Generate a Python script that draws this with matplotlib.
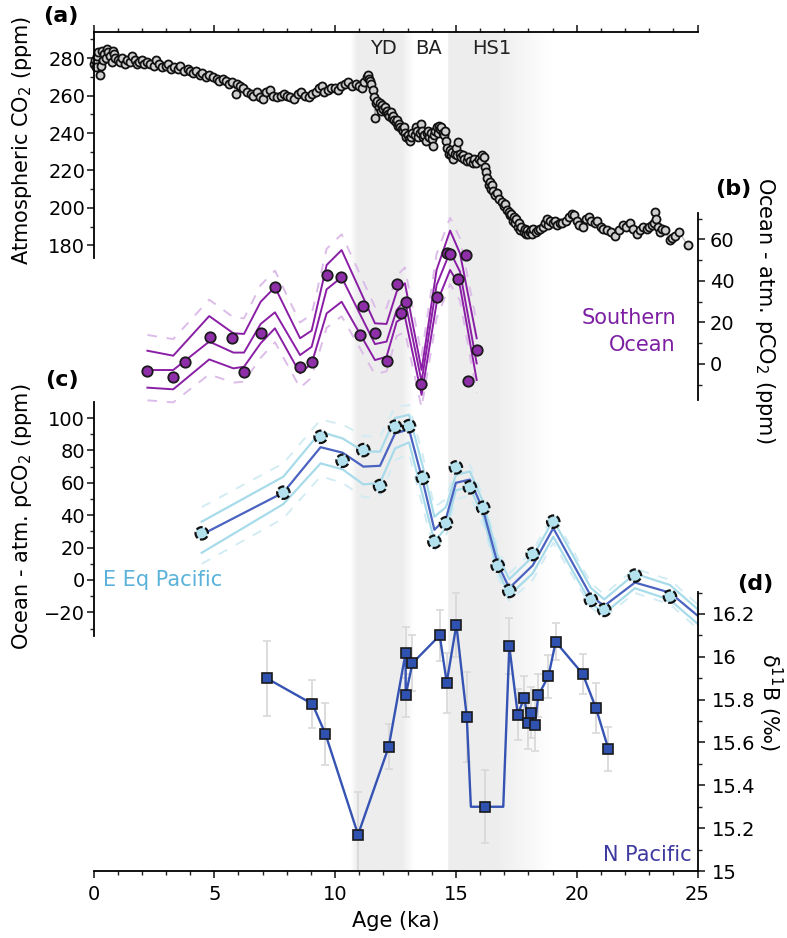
import numpy as np
import matplotlib
matplotlib.use('Agg')
import matplotlib.pyplot as plt
from matplotlib.ticker import MultipleLocator

plt.rcParams['font.family'] = ['DejaVu Sans']

# ---------------- data ----------------
# (a) atmospheric CO2 (ka, ppm)
co2_age = [0.0, 0.05, 0.1, 0.15, 0.2, 0.25, 0.3, 0.35, 0.4, 0.45, 0.5, 0.55, 0.6, 0.7, 0.75, 0.8, 0.85, 0.9,
           1.0, 1.1, 1.2, 1.3, 1.4, 1.5, 1.6, 1.7, 1.8, 1.9, 2.0, 2.1, 2.2, 2.35, 2.5, 2.6, 2.7, 2.85,
           3.0, 3.1, 3.2, 3.35, 3.5, 3.6, 3.75, 3.9, 4.0, 4.1, 4.25, 4.4, 4.5, 4.65, 4.8, 4.95, 5.1, 5.2,
           5.35, 5.5, 5.6, 5.75, 5.9, 5.95, 6.05, 6.2, 6.35, 6.5, 6.6, 6.75, 6.9, 7.0, 7.15, 7.3, 7.45,
           7.6, 7.75, 7.9, 8.0, 8.15, 8.3, 8.45, 8.6, 8.75, 8.9, 9.05, 9.2, 9.35, 9.45, 9.55, 9.7, 9.85,
           10.0, 10.1, 10.25, 10.4, 10.55, 10.7, 10.85, 11.0, 11.1, 11.2, 11.3, 11.35, 11.4, 11.45, 11.5,
           11.55, 11.6, 11.65, 11.7, 11.75, 11.8, 11.85, 11.9, 11.95, 12.0, 12.05, 12.1, 12.15, 12.2,
           12.25, 12.3, 12.35, 12.4, 12.45, 12.5, 12.55, 12.6, 12.65, 12.7, 12.75, 12.8, 12.85, 12.9,
           12.95, 13.0, 13.05, 13.1, 13.15, 13.2, 13.3, 13.35, 13.4, 13.45, 13.5, 13.55, 13.6, 13.65,
           13.7, 13.75, 13.8, 13.85, 13.9, 13.95, 14.0, 14.05, 14.1, 14.15, 14.2, 14.25, 14.3, 14.35,
           14.4, 14.45, 14.5, 14.55, 14.6, 14.65, 14.7, 14.75, 14.8, 14.85, 14.9, 14.95, 15.0, 15.05,
           15.1, 15.15, 15.2, 15.3, 15.35, 15.45, 15.5, 15.6, 15.7, 15.75, 15.85, 15.95, 16.05, 16.1,
           16.15, 16.2, 16.25, 16.3, 16.35, 16.4, 16.45, 16.5, 16.55, 16.6, 16.7, 16.8, 16.9, 17.0,
           17.05, 17.1, 17.2, 17.25, 17.3, 17.35, 17.4, 17.45, 17.5, 17.55, 17.6, 17.65, 17.7, 17.8,
           17.85, 17.9, 17.95, 18.0, 18.05, 18.1, 18.15, 18.2, 18.3, 18.4, 18.5, 18.6, 18.7, 18.75,
           18.8, 18.9, 19.0, 19.1, 19.2, 19.3, 19.4, 19.55, 19.7, 19.8, 19.9, 20.0, 20.1, 20.25, 20.4,
           20.5, 20.6, 20.75, 20.85, 21.0, 21.1, 21.25, 21.4, 21.6, 21.75, 21.9, 22.05, 22.2, 22.35,
           22.5, 22.6, 22.75, 22.9, 23.0, 23.1, 23.2, 23.25, 23.3, 23.35, 23.45, 23.55, 23.65, 23.85,
           23.95, 24.05, 24.25, 24.6]
co2_val = [277, 279, 275, 281, 283, 271, 276, 284, 279, 282, 280, 285, 283, 281, 278, 284, 282, 280,
           279, 278, 280, 277, 279, 278, 281, 279, 277, 278, 279, 277, 278, 277, 276, 279, 277, 275,
           276, 277, 274, 275, 274, 276, 273, 274, 273, 272, 273, 271, 272, 270, 271, 270, 269, 268,
           269, 268, 266, 267, 261, 266, 265, 264, 262, 261, 260, 262, 259, 258, 262, 263, 260,
           259, 260, 261, 260, 259, 258, 261, 262, 260, 259, 261, 262, 264, 265, 262, 263, 264,
           264, 263, 265, 266, 267, 265, 266, 265, 264, 267, 270, 271, 269, 268, 266,
           263, 259, 248, 256, 257, 254, 256, 252, 255, 253, 254, 251, 252, 250,
           249, 251, 248, 249, 247, 246, 247, 244, 245, 243, 242, 241, 243, 240,
           238, 239, 237, 236, 238, 240, 239, 243, 241, 238, 240, 245, 241, 238,
           239, 236, 240, 241, 238, 240, 237, 233, 239, 241, 243, 240, 244, 242,
           243, 240, 239, 241, 236, 232, 229, 231, 228, 230, 226, 229, 232, 228,
           235, 229, 227, 228, 226, 225, 227, 225, 224, 226, 224, 226, 225, 228,
           227, 222, 219, 216, 212, 214, 210, 212, 209, 207, 208, 205, 203, 201,
           202, 199, 198, 196, 197, 193, 195, 192, 194, 190, 192, 188, 190, 187,
           189, 186, 188, 186, 187, 188, 186, 189, 187, 188, 189, 190, 192, 194,
           191, 193, 192, 193, 191, 192, 192, 193, 195, 197, 196, 193, 191, 190, 194,
           195, 193, 192, 193, 190, 189, 188, 187, 185, 188, 191, 190, 192, 189,
           186, 188, 190, 189, 190, 191, 192, 198, 194, 190, 187, 189, 188, 183,
           184, 185, 187, 180]

# (b) Southern Ocean ocean-atm pCO2
so_age = [2.23, 3.28, 3.79, 4.82, 5.75, 6.23, 6.92, 7.51, 8.55, 9.03, 9.68, 10.24, 11.03, 11.17,
          11.65, 12.13, 12.57, 12.71, 12.92, 13.56, 14.2, 14.65, 14.75, 15.1, 15.4, 15.51, 15.86]
so_val = [-3.2, -6.4, 1.0, 13.2, 12.4, -4.0, 14.8, 37.0, -1.3, 0.8, 42.7, 41.8, 14.1, 28.0,
          14.8, 1.6, 38.6, 24.7, 29.7, -9.6, 32.1, 53.4, 53.0, 41.1, 52.5, -8.0, 6.7]
so_line_age = [2.23, 3.30, 4.79, 5.79, 6.23, 6.92, 7.51, 8.55, 9.03, 9.65, 10.27, 11.65, 12.13,
               12.55, 12.89, 13.58, 14.2, 14.76, 15.17, 15.86]
so_mid = [-2.9, -2.9, 10.8, 5.5, 5.5, 19.3, 24.9, 4.3, 8.3, 36.0, 41.8, 9.6, 10.8, 26.0, 30.8,
          -8.5, 38.0, 54.1, 44.5, 0.3]
so_up = [6.4, 4.0, 23.1, 14.8, 14.5, 30.0, 37.0, 12.4, 16.1, 47.7, 54.9, 19.6, 19.3, 34.9, 38.9,
         -2.9, 45.3, 64.3, 53.3, 12.4]
so_lo = [-11.4, -12.2, 2.2, -2.1, -1.3, 10.0, 17.2, -4.5, 0.3, 24.4, 30.0, 1.9, 3.5, 20.4, 22.8,
         -14.9, 29.2, 45.3, 37.3, -7.7]
so_up2 = [14.0, 12.0, 31.0, 22.5, 22.0, 38.0, 45.0, 20.0, 24.0, 55.5, 62.5, 27.5, 27.0, 42.5, 46.5,
          4.0, 53.0, 70.5, 60.5, 20.0]
so_lo2 = [-17.5, -18.5, -5.0, -9.0, -8.5, 3.0, 10.5, -11.5, -6.5, 17.5, 23.0, -5.0, -3.5, 13.5,
          15.5, -21.0, 22.0, 38.5, 30.5, -14.0]

# (c) E Eq Pacific ocean-atm pCO2
ep_age = [4.48, 7.86, 9.40, 10.31, 11.17, 11.86, 12.48, 13.06, 13.63, 14.11, 14.59, 15.00, 15.58,
          16.13, 16.73, 17.21, 18.18, 19.03, 20.59, 21.14, 22.41, 23.86]
ep_val = [28.8, 53.9, 88.4, 73.6, 80.2, 58.0, 94.6, 95.0, 63.1, 23.6, 35.0, 69.5, 57.2, 44.6, 8.8,
          -6.8, 16.0, 36.0, -12.3, -18.5, 2.7, -10.3]
ep_line_age = [4.48, 7.86, 9.40, 10.31, 11.17, 11.86, 12.48, 13.06, 13.63, 14.11, 14.59, 15.00,
               15.58, 16.13, 16.73, 17.21, 18.18, 19.03, 20.59, 21.14, 22.41, 23.86, 25.0]
ep_mid = [28, 54, 82, 78.6, 70, 70.5, 90.5, 93, 61, 31, 38, 60, 62, 43, 10, -5, 9, 32, -10, -16,
          -1.6, -7.8, -22]
ep_up = [36, 63.8, 91.5, 87.4, 79.5, 79.2, 100, 102, 70, 39, 45, 65, 67, 48, 15, 0.5, 14.4, 37,
         -5, -12, 3.9, -3.1, -18]
ep_lo = [16.8, 46.9, 72, 68.3, 59, 60, 81.2, 85, 52, 24, 32, 55.5, 57, 39, 6, -9.5, 4.1, 26.7,
         -14.3, -20.6, -5.1, -12.3, -27]
ep_up2 = [45, 72, 99, 96, 89, 88, 107, 108, 77, 45, 50, 70, 71, 52, 19, 4, 18, 40, -2, -9, 7, 0, -15]
ep_lo2 = [10, 38, 64, 60, 51, 52, 74, 78, 45, 18, 27, 50, 52, 34, 2, -13, 0, 23, -17, -23, -8, -15,
          -30]

# (d) N Pacific d11B
np_age = [7.17, 9.06, 9.60, 10.95, 12.22, 12.92, 12.92, 13.2, 14.33, 14.62, 15.02, 15.45, 16.22,
          17.21, 17.56, 17.83, 18.0, 18.11, 18.27, 18.41, 18.83, 19.13, 20.25, 20.80, 21.31]
np_val = [15.90, 15.78, 15.64, 15.17, 15.58, 16.02, 15.82, 15.97, 16.10, 15.88, 16.15, 15.72,
          15.30, 16.05, 15.73, 15.81, 15.69, 15.74, 15.68, 15.82, 15.91, 16.07, 15.92, 15.76, 15.57]
np_err = [0.175, 0.11, 0.145, 0.2, 0.105, 0.12, 0.10, 0.13, 0.12, 0.14, 0.15, 0.21, 0.17, 0.13,
          0.12, 0.1, 0.12, 0.12, 0.12, 0.1, 0.1, 0.086, 0.095, 0.117, 0.103]
np_line_age = [7.17, 9.06, 9.60, 10.95, 12.22, 12.92, 12.92, 13.2, 14.33, 14.62, 15.02, 15.45,
               15.62, 16.22, 16.96, 17.21, 17.56, 17.83, 18.0, 18.11, 18.27, 18.41, 18.83, 19.13,
               20.25, 20.80, 21.31]
np_line_val = [15.90, 15.78, 15.64, 15.17, 15.58, 16.02, 15.82, 15.97, 16.10, 15.88, 16.15, 15.72,
               15.30, 15.30, 15.30, 16.05, 15.73, 15.81, 15.69, 15.74, 15.68, 15.82, 15.91, 16.07,
               15.92, 15.76, 15.57]

# event shading profile (ka, opacity)
shade_age = [0, 10.62, 10.9, 12.75, 13.25, 14.66, 14.67, 16.6, 18.95, 25]
shade_alpha = [0, 0, 1, 1, 0, 0, 1, 1, 0, 0]
event_labels = ['YD', 'BA', 'HS1']
event_pos = [12.0, 13.85, 16.5]

# ---------------- layout ----------------
W, H = 787, 938
fig = plt.figure(figsize=(W / 100, H / 100), dpi=100)
X0, X1 = 93.5, 697.5


def rect(ytop, ybot):
    return [X0 / W, 1 - ybot / H, (X1 - X0) / W, (ybot - ytop) / H]


def fx(px):
    return px / W


def fy(py):
    return 1 - py / H


TICK_FS = 14
LAB_FS = 15

# background shading
bg = fig.add_axes(rect(32, 871))
bg.set_xlim(0, 25)
bg.set_ylim(0, 1)
bg.axis('off')
xs = np.linspace(0, 25, 2000)
al = np.interp(xs, shade_age, shade_alpha)
img = np.zeros((1, len(xs), 4))
img[..., :3] = 0.93
img[0, :, 3] = al
bg.imshow(img, extent=[0, 25, 0, 1], aspect='auto', interpolation='bilinear', zorder=0)
for lab, pos in zip(event_labels, event_pos):
    bg.text(pos, 1 - (48 - 32) / (871 - 32), lab, ha='center', va='center', fontsize=14,
            color='#222222')


def base(ax):
    ax.set_xlim(0, 25)
    ax.patch.set_alpha(0)
    for s in ax.spines.values():
        s.set_visible(False)
        s.set_linewidth(1.3)
    ax.tick_params(which='major', length=5, width=1.2, labelsize=TICK_FS, color='#222222')
    ax.tick_params(which='minor', length=3, width=1.0, color='#222222')


# (a)
axa = fig.add_axes(rect(32, 258))
base(axa)
axa.set_ylim(173.33, 293.87)
axa.spines['left'].set_visible(True)
axa.spines['top'].set_visible(True)
axa.xaxis.tick_top()
axa.xaxis.set_major_locator(MultipleLocator(5))
axa.xaxis.set_minor_locator(MultipleLocator(1))
axa.tick_params(axis='x', which='both', labeltop=False, direction='out')
axa.yaxis.set_major_locator(MultipleLocator(20))
axa.yaxis.set_minor_locator(MultipleLocator(10))
axa.tick_params(axis='y', which='both', direction='out', pad=1)
axa.plot(co2_age, co2_val, color='#b0b0b0', lw=0.8, zorder=1, clip_on=False)
axa.plot(co2_age, co2_val, ls='none', marker='o', ms=5.8, mfc='#d0d0d0', mec='#111111', mew=1.3,
         zorder=2, clip_on=False)

# (b)
axb = fig.add_axes(rect(213, 400))
base(axb)
axb.set_ylim(-17.35, 72.77)
axb.spines['right'].set_visible(True)
axb.set_xticks([])
axb.yaxis.tick_right()
axb.yaxis.set_major_locator(MultipleLocator(20))
axb.yaxis.set_minor_locator(MultipleLocator(10))
axb.tick_params(axis='y', which='both', direction='out', pad=4)
pur = '#8a1fa6'
pur_light = '#dcbce8'
axb.plot(so_line_age, so_up2, color=pur_light, lw=1.4, ls=(0, (5, 5)), clip_on=False, zorder=1)
axb.plot(so_line_age, so_lo2, color=pur_light, lw=1.4, ls=(0, (5, 5)), clip_on=False, zorder=1)
for arr in (so_up, so_mid, so_lo):
    axb.plot(so_line_age, arr, color=pur, lw=1.4, clip_on=False, zorder=2)
axb.plot(so_age, so_val, ls='none', marker='o', ms=7.5, mfc='#8e2ea8', mec='#1a1a1a', mew=1.3,
         clip_on=False, zorder=3)

# (c)
axc = fig.add_axes(rect(402, 636))
base(axc)
axc.set_ylim(-34.6, 109.9)
axc.spines['left'].set_visible(True)
axc.set_xticks([])
axc.yaxis.set_major_locator(MultipleLocator(20))
axc.yaxis.set_minor_locator(MultipleLocator(10))
axc.tick_params(axis='y', which='both', direction='out', pad=1)
axc.plot(ep_line_age, ep_up2, color='#d3ecf4', lw=1.4, ls=(0, (5, 5)), clip_on=False, zorder=1)
axc.plot(ep_line_age, ep_lo2, color='#d3ecf4', lw=1.4, ls=(0, (5, 5)), clip_on=False, zorder=1)
axc.plot(ep_line_age, ep_up, color='#a8dbea', lw=1.6, clip_on=False, zorder=2)
axc.plot(ep_line_age, ep_lo, color='#a8dbea', lw=1.6, clip_on=False, zorder=2)
axc.plot(ep_line_age, ep_mid, color='#4a62c0', lw=1.6, clip_on=False, zorder=3)
axc.scatter(ep_age, ep_val, s=80, facecolors='#b3e1ee', edgecolors='#111111', linewidths=1.6,
            linestyles=(0, (3, 1.2)), clip_on=False, zorder=4)

# (d)
axd = fig.add_axes(rect(592, 871))
base(axd)
axd.set_ylim(15, 16.3027)
axd.spines['right'].set_visible(True)
axd.spines['bottom'].set_visible(True)
axd.yaxis.tick_right()
axd.yaxis.set_major_locator(MultipleLocator(0.2))
axd.yaxis.set_minor_locator(MultipleLocator(0.1))
axd.set_yticks([15, 15.2, 15.4, 15.6, 15.8, 16, 16.2])
axd.set_yticklabels(['15', '15.2', '15.4', '15.6', '15.8', '16', '16.2'])
axd.tick_params(axis='y', which='both', direction='out', pad=5)
axd.xaxis.set_major_locator(MultipleLocator(5))
axd.xaxis.set_minor_locator(MultipleLocator(1))
axd.tick_params(axis='x', which='both', direction='out', pad=5)
axd.errorbar(np_age, np_val, yerr=np_err, fmt='none', ecolor='#d9d9d9', elinewidth=1.3, capsize=3,
             capthick=1.2, zorder=1)
axd.plot(np_line_age, np_line_val, color='#3553b3', lw=1.7, zorder=2, clip_on=False)
axd.plot(np_age, np_val, ls='none', marker='s', ms=7.5, mfc='#2f52b0', mec='#1a1a1a', mew=1.2,
         zorder=3, clip_on=False)

# ---------------- texts ----------------
fig.text(fx(22), fy(140), 'Atmospheric CO$_2$ (ppm)', rotation=90, ha='center', va='center',
         fontsize=LAB_FS)
fig.text(fx(22), fy(517), 'Ocean - atm. pCO$_2$ (ppm)', rotation=90, ha='center', va='center',
         fontsize=LAB_FS)
fig.text(fx(765), fy(310), 'Ocean - atm. pCO$_2$ (ppm)', rotation=270, ha='center', va='center',
         fontsize=LAB_FS)
fig.text(fx(770), fy(702), 'δ$^{11}$B (‰)', rotation=270, ha='center', va='center',
         fontsize=LAB_FS)
fig.text(fx(395.5), fy(921), 'Age (ka)', ha='center', va='center', fontsize=LAB_FS)

for s, (px, py) in zip(['(a)', '(b)', '(c)', '(d)'],
                       [(61, 16), (733, 189), (62, 380), (755, 584)]):
    fig.text(fx(px), fy(py), s, ha='center', va='center', fontsize=16, fontweight='bold')

fig.text(fx(676), fy(318), 'Southern', ha='right', va='center', fontsize=LAB_FS, color='#7d1fa3')
fig.text(fx(676), fy(345), 'Ocean', ha='right', va='center', fontsize=LAB_FS, color='#7d1fa3')
fig.text(fx(103), fy(580), 'E Eq Pacific', ha='left', va='center', fontsize=LAB_FS,
         color='#5ab2da')
fig.text(fx(692), fy(855), 'N Pacific', ha='right', va='center', fontsize=LAB_FS, color='#3f3a9f')

fig.savefig('out.png', dpi=100)
